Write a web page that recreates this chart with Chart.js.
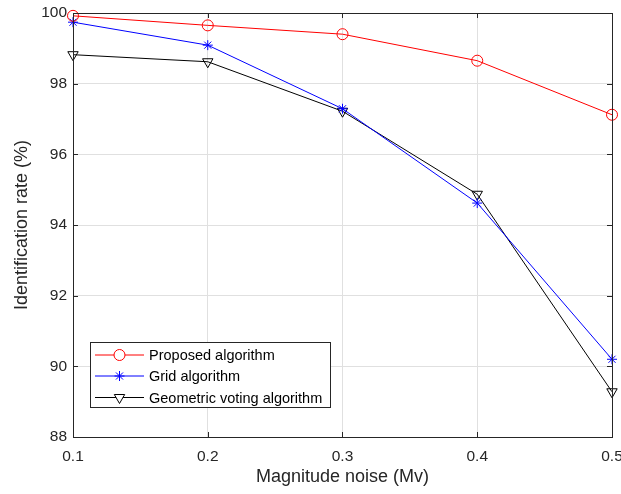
<!DOCTYPE html>
<html lang="en">
<head>
    <meta charset="UTF-8">
    <title>Identification rate</title>
    <script src="https://cdn.jsdelivr.net/npm/chart.js@4.4.1/dist/chart.umd.min.js"></script>
    <style>
        html, body { margin: 0; padding: 0; background: #fff; }
        #wrap { width: 621px; height: 494px; position: relative; }
    </style>
</head>
<body>
<div id="wrap"><canvas id="rate"></canvas></div>
<script>
    // data
    var noise = [0.1, 0.2, 0.3, 0.4, 0.5];
    var proposed = [99.92, 99.65, 99.40, 98.65, 97.12];
    var grid = [99.74, 99.09, 97.29, 94.62, 90.20];
    var geometric = [98.82, 98.62, 97.22, 94.87, 89.28];
    var seriesNames = ['Proposed algorithm', 'Grid algorithm', 'Geometric voting algorithm'];
    var yTicks = [88, 90, 92, 94, 96, 98, 100];

    var axisColor = '#262626';
    var font = "'Liberation Sans', Arial, sans-serif";

    function pts(ys) {
        return noise.map(function (x, i) { return {x: x, y: ys[i]}; });
    }

    // MATLAB style box with inward ticks, plus the legend inside the axes
    var boxPlugin = {
        id: 'box',
        afterDraw: function (chart) {
            var ctx = chart.ctx, a = chart.chartArea;
            var xs = chart.scales.x, ys = chart.scales.y;
            var t = 5;
            ctx.save();
            ctx.strokeStyle = axisColor;
            ctx.lineWidth = 1;
            ctx.beginPath();
            noise.forEach(function (v) {
                var px = Math.round(xs.getPixelForValue(v)) + 0.5;
                ctx.moveTo(px, a.bottom); ctx.lineTo(px, a.bottom - t);
                ctx.moveTo(px, a.top); ctx.lineTo(px, a.top + t);
            });
            yTicks.forEach(function (v) {
                var py = Math.round(ys.getPixelForValue(v)) + 0.5;
                ctx.moveTo(a.left, py); ctx.lineTo(a.left + t, py);
                ctx.moveTo(a.right, py); ctx.lineTo(a.right - t, py);
            });
            ctx.stroke();
            ctx.strokeRect(Math.round(a.left) + 0.5, Math.round(a.top) + 0.5,
                Math.round(a.right - a.left), Math.round(a.bottom - a.top));

            // legend
            var lx = 90.5, ly = 342.5, lw = 240, lh = 65;
            ctx.fillStyle = '#fff';
            ctx.fillRect(lx, ly, lw, lh);
            ctx.strokeStyle = axisColor;
            ctx.strokeRect(lx, ly, lw, lh);
            ctx.textBaseline = 'middle';
            var rows = [355, 376, 397.5];
            chart.data.datasets.forEach(function (ds, i) {
                var y = rows[i];
                ctx.strokeStyle = ds.borderColor;
                ctx.lineWidth = 1;
                ctx.beginPath();
                ctx.moveTo(95, y); ctx.lineTo(144, y);
                ctx.stroke();
                ctx.fillStyle = '#fff';
                Chart.helpers.drawPoint(ctx, {
                    pointStyle: ds.pointStyle,
                    radius: ds.pointRadius,
                    rotation: ds.pointRotation || 0,
                    borderWidth: 1
                }, 119.5, y);
                ctx.fillStyle = '#000';
                ctx.font = '14.5px ' + font;
                ctx.fillText(ds.label, 149, y + 1);
            });
            ctx.restore();
        }
    };

    function series(label, ys, color, style, r, rot) {
        return {
            label: label,
            data: pts(ys),
            borderColor: color,
            backgroundColor: 'rgba(0,0,0,0)',
            pointBorderColor: color,
            pointBackgroundColor: 'rgba(0,0,0,0)',
            borderWidth: 1,
            pointBorderWidth: 1,
            pointStyle: style,
            pointRadius: r,
            pointRotation: rot,
            pointHoverRadius: r,
            clip: false,
            tension: 0
        };
    }

    var ctx = document.getElementById('rate').getContext('2d');
    var chart = new Chart(ctx, {
        type: 'line',
        data: {
            datasets: [
                series(seriesNames[0], proposed, '#ff0000', 'circle', 5.5, 0),
                series(seriesNames[1], grid, '#0000ff', 'star', 5, 0),
                series(seriesNames[2], geometric, '#000000', 'triangle', 6, 180)
            ]
        },
        options: {
            responsive: true,
            maintainAspectRatio: false,
            animation: false,
            layout: {padding: {left: 0, right: 9, top: 13, bottom: 0}},
            plugins: {legend: {display: false}, tooltip: {enabled: false}},
            scales: {
                x: {
                    type: 'linear',
                    min: 0.1, max: 0.5,
                    afterFit: function (s) {
                        s.height = 57;
                        s.paddingLeft = 0;
                        s.paddingRight = 0;
                    },
                    afterBuildTicks: function (s) {
                        s.ticks = noise.map(function (v) { return {value: v}; });
                    },
                    ticks: {
                        color: axisColor,
                        font: {family: font, size: 15.5},
                        padding: 10,
                        maxRotation: 0,
                        callback: function (v) { return String(+v.toFixed(1)); }
                    },
                    grid: {color: '#e0e0e0', drawTicks: false},
                    border: {display: false},
                    title: {
                        display: true,
                        text: 'Magnitude noise (Mv)',
                        color: axisColor,
                        font: {family: font, size: 18},
                        padding: {top: 0, bottom: 6}
                    }
                },
                y: {
                    min: 88, max: 100,
                    afterFit: function (s) {
                        s.width = 73;
                        s.paddingTop = 0;
                        s.paddingBottom = 0;
                    },
                    afterBuildTicks: function (s) {
                        s.ticks = yTicks.map(function (v) { return {value: v}; });
                    },
                    ticks: {
                        color: axisColor,
                        font: {family: font, size: 15.5},
                        padding: 6
                    },
                    grid: {color: '#e0e0e0', drawTicks: false},
                    border: {display: false},
                    title: {
                        display: true,
                        text: 'Identification rate (%)',
                        color: axisColor,
                        font: {family: font, size: 18},
                        padding: {top: 11, bottom: 0}
                    }
                }
            }
        },
        plugins: [boxPlugin]
    });
</script>
</body>
</html>
